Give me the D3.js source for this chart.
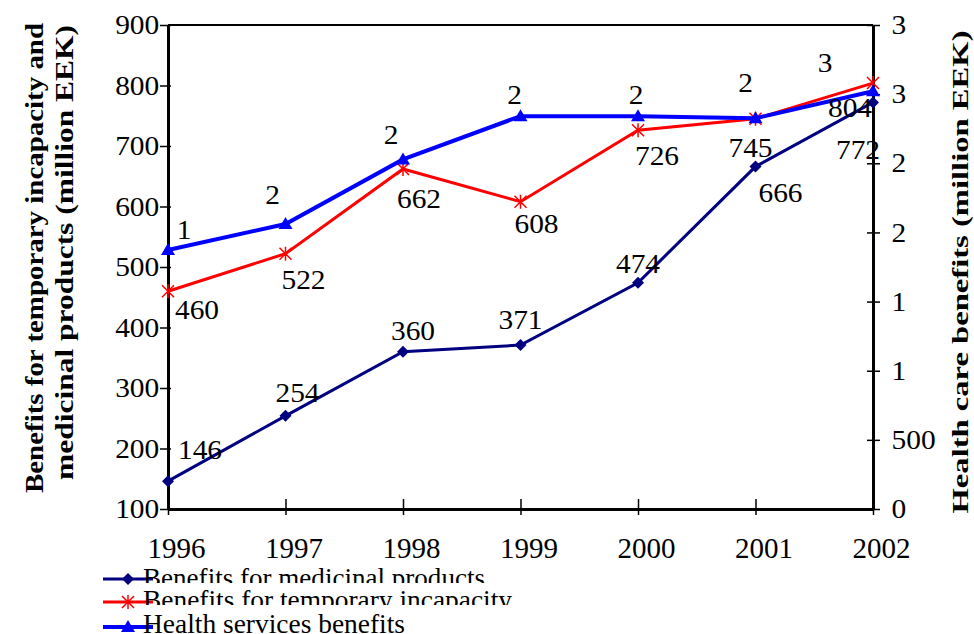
<!DOCTYPE html>
<html><head><meta charset="utf-8">
<script src="https://cdn.jsdelivr.net/npm/d3@7"></script>
<style>body{margin:0;background:#fff}svg{display:block}text{font-family:"Liberation Serif","Times New Roman",serif}</style>
</head><body><svg id="c" width="974" height="634"></svg>
<script>
const years = ["1996","1997","1998","1999","2000","2001","2002"];
const medicinal = [146, 254, 360, 371, 474, 666, 772];
const incapacity = [460, 522, 662, 608, 726, 745, 804];
const healthServices = [1873, 2061, 2528, 2841, 2841, 2826, 3021];
const healthLabels = ["1","2","2","2","2","2","3"];
const leftTicks = [100,200,300,400,500,600,700,800,900];
const rightTicks = [0,500,1000,1500,2000,2500,3000,3500];
const rightTickLabels = ["0","500","1","1","2","2","3","3"];
const seriesNames = ["Benefits for medicinal products","Benefits for temporary incapacity","Health services benefits"];

const svg = d3.select("#c");
const L = 168, R = 873, T = 25, B = 509;
const x = d3.scalePoint().domain(years).range([L, R]).padding(0);
const yL = d3.scaleLinear().domain([100, 900]).range([B, T]);
const yR = d3.scaleLinear().domain([0, 3500]).range([B, T]);
const SX = 1.09;

// frame top
svg.append("line").attr("x1",L).attr("x2",R).attr("y1",T).attr("y2",T).attr("stroke","#000").attr("stroke-width",2);

// axes
const fs = 27;
const gx = svg.append("g").attr("transform",`translate(0,${B})`)
  .call(d3.axisBottom(x).tickSizeInner(6).tickSizeOuter(0));
gx.selectAll(".tick line").attr("y1",-10).attr("y2",6);
gx.selectAll(".tick text").attr("x",8).attr("y",49).attr("dy",0).attr("font-size",29);
const gl = svg.append("g").attr("transform",`translate(${L},0)`)
  .call(d3.axisLeft(yL).tickValues(leftTicks).tickSizeInner(8).tickSizeOuter(0).tickPadding(0));
gl.selectAll(".tick line").attr("x1",-8).attr("x2",3);
const gr = svg.append("g").attr("transform",`translate(${R},0)`)
  .call(d3.axisRight(yR).tickValues(rightTicks).tickFormat((d,i)=>rightTickLabels[i]).tickSizeInner(6).tickSizeOuter(0).tickPadding(11));
gr.selectAll(".tick line").attr("x1",-6).attr("x2",7);
[gx,gl,gr].forEach(g=>{
  g.selectAll("path.domain").attr("stroke","#000").attr("stroke-width",3);
  g.selectAll(".tick line").attr("stroke","#000").attr("stroke-width",1.5);
  g.selectAll("text").attr("fill","#000").attr("font-family","Liberation Serif");
});
[gl,gr].forEach(g=>g.selectAll("text").attr("font-size",fs).attr("transform",`scale(${SX},1)`));

// titles
svg.append("text").attr("transform","translate(43,258) rotate(-90)").attr("text-anchor","middle")
  .attr("font-size",26).attr("font-weight","bold").attr("textLength",470).attr("lengthAdjust","spacingAndGlyphs")
  .text("Benefits for temporary incapacity and");
svg.append("text").attr("transform","translate(73,252.5) rotate(-90)").attr("text-anchor","middle")
  .attr("font-size",26).attr("font-weight","bold").attr("textLength",455).attr("lengthAdjust","spacingAndGlyphs")
  .text("medicinal products (million EEK)");
svg.append("text").attr("transform","translate(968,272) rotate(-90)").attr("text-anchor","middle")
  .attr("font-size",24).attr("font-weight","bold").attr("textLength",483).attr("lengthAdjust","spacingAndGlyphs")
  .text("Health care benefits (million EEK)");

const series = [
  {vals: medicinal, y: yL, color:"#000080", width:3, marker:"diamond", labels: medicinal.map(String),
   off: [[32,-31],[12,-23],[10,-21],[0,-25],[0,-19],[25,26],[-15,47]]},
  {vals: incapacity, y: yL, color:"#FF0000", width:3, marker:"star", labels: incapacity.map(String),
   off: [[29,19],[18,26],[16,30],[16,22],[19,26],[-5,29],[-23,25]]},
  {vals: healthServices, y: yR, color:"#0000FF", width:4, marker:"triangle", labels: healthLabels,
   off: [[16,-20],[-13,-29],[-12,-24],[-6,-21],[-2,-21],[-10,-35],[-48,-28]]}
];

function drawMarker(g, type, color, cx, cy){
  if(type==="diamond"){
    g.append("path").attr("d",`M${cx},${cy-6}L${cx+6},${cy}L${cx},${cy+6}L${cx-6},${cy}Z`).attr("fill",color);
  } else if(type==="triangle"){
    g.append("path").attr("d",`M${cx},${cy-7}L${cx+7},${cy+5}L${cx-7},${cy+5}Z`).attr("fill",color);
  } else {
    g.append("path").attr("d",`M${cx-6},${cy-6}L${cx+6},${cy+6}M${cx+6},${cy-6}L${cx-6},${cy+6}M${cx},${cy-7}L${cx},${cy+7}`)
      .attr("stroke",color).attr("stroke-width",1.5).attr("fill","none");
  }
}

series.forEach(s=>{
  const line = d3.line().x((d,i)=>x(years[i])).y(d=>s.y(d));
  svg.append("path").datum(s.vals).attr("d",line).attr("fill","none").attr("stroke",s.color).attr("stroke-width",s.width);
  const g = svg.append("g");
  s.vals.forEach((v,i)=>drawMarker(g, s.marker, s.color, x(years[i]), s.y(v)));
});
// labels on top
series.forEach(s=>{
  s.vals.forEach((v,i)=>{
    svg.append("g").attr("transform",`translate(${x(years[i])+s.off[i][0]},${s.y(v)+s.off[i][1]}) scale(${SX},1)`)
      .append("text").attr("text-anchor","middle").attr("dominant-baseline","central").attr("font-size",fs).attr("fill","#000")
      .text(s.labels[i]);
  });
});

// legend
const defs = svg.append("defs");
const rowTop = [560, 583, 605];
const rowClip = [583, 605, 634];
const baseY = [587, 609, 633];
const lineY = [579, 602, 627];
const textLen = [342, 369, 262];
series.forEach((s,i)=>{
  defs.append("clipPath").attr("id","lc"+i).append("rect").attr("x",0).attr("y",rowTop[i]).attr("width",974).attr("height",rowClip[i]-rowTop[i]);
  const g = svg.append("g");
  g.append("line").attr("x1",103).attr("x2",153).attr("y1",lineY[i]).attr("y2",lineY[i]).attr("stroke",s.color).attr("stroke-width",s.width);
  drawMarker(g, s.marker, s.color, 128, lineY[i]);
  svg.append("text").attr("x",143).attr("y",baseY[i]).attr("font-size",28).attr("fill","#000")
    .attr("textLength",textLen[i]).attr("lengthAdjust","spacingAndGlyphs")
    .attr("clip-path",`url(#lc${i})`).text(seriesNames[i]);
});
</script></body></html>
